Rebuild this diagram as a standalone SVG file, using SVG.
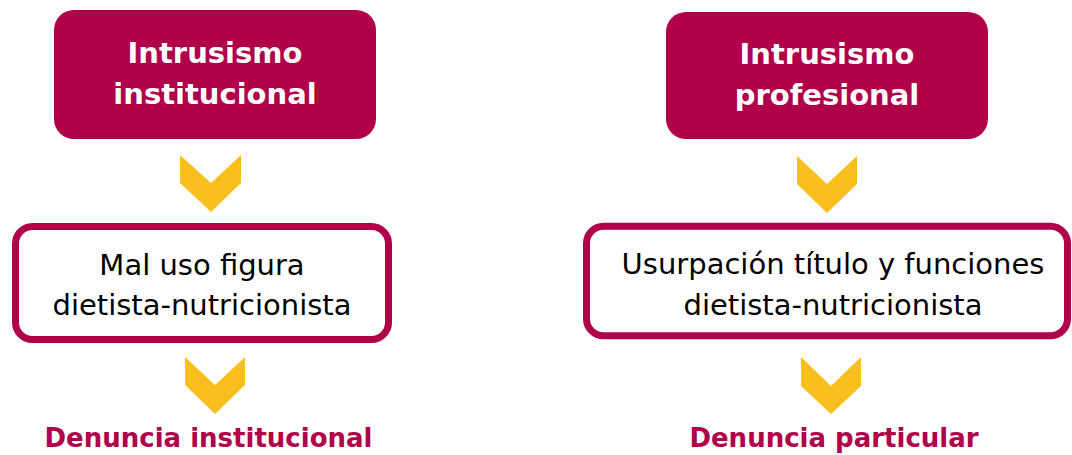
<svg xmlns="http://www.w3.org/2000/svg" width="1072" height="455" viewBox="0 0 1072 455">
<style>
.head{fill:#B0004A}
.box{fill:#fff;stroke:#B0004A;stroke-width:7}
.chev{fill:#F9BF1F}
.t{font-family:"DejaVu Sans",Verdana,sans-serif;text-anchor:middle}
.tw{fill:#fff;font-weight:bold;font-size:29px}
.tb{fill:#000;font-size:29px}
.tm{fill:#B0004A;font-weight:bold;font-size:26px}
</style>
<rect width="1072" height="455" fill="#fff"/>
<g id="node-intrusismo-institucional">
<rect class="head" x="54" y="10" width="322" height="129" rx="20"/>
<text class="t tw" x="215" y="63">Intrusismo</text>
<text class="t tw" x="215" y="103.5">institucional</text>
</g>
<g id="node-mal-uso">
<rect class="box" x="15.5" y="226.5" width="373" height="113" rx="17"/>
<text class="t tb" x="202" y="275">Mal uso figura</text>
<text class="t tb" x="202" y="315">dietista-nutricionista</text>
</g>
<g id="node-denuncia-institucional">
<text class="t tm" x="208.5" y="447">Denuncia institucional</text>
</g>
<g id="node-intrusismo-profesional">
<rect class="head" x="666" y="12" width="322" height="127" rx="20"/>
<text class="t tw" x="827" y="64">Intrusismo</text>
<text class="t tw" x="827" y="104.5">profesional</text>
</g>
<g id="node-usurpacion">
<rect class="box" x="586.5" y="226.2" width="481" height="109.6" rx="17"/>
<text class="t tb" x="833" y="273.5">Usurpación título y funciones</text>
<text class="t tb" x="833" y="314.5">dietista-nutricionista</text>
</g>
<g id="node-denuncia-particular">
<text class="t tm" x="834" y="447">Denuncia particular</text>
</g>
<g id="connectors">
<polygon class="chev" points="180,155 211,183 241,155 241,183 211,212 180,183"/>
<polygon class="chev" points="185,357 215,385 245,357 245,385 215,414 185,385"/>
<polygon class="chev" points="797,156 827,184 857,156 857,184 827,213 797,184"/>
<polygon class="chev" points="801,357 831,386 861,357 861,386 831,414 801,386"/>
</g>
</svg>
